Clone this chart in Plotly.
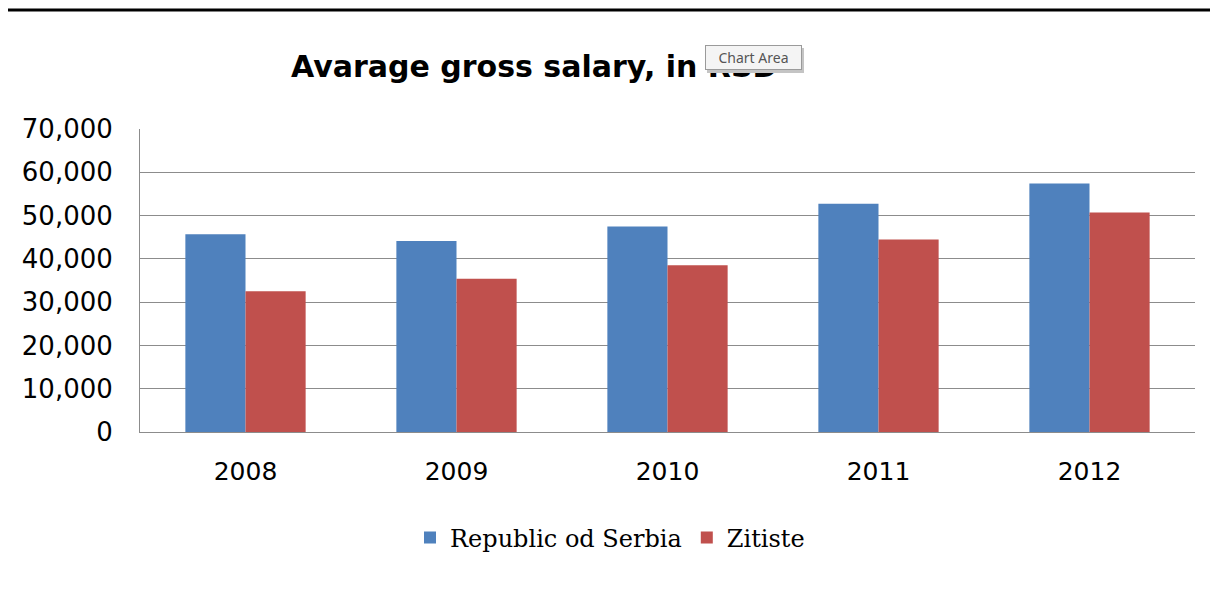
import plotly.graph_objects as go

years = ["2008", "2009", "2010", "2011", "2012"]
serbia = [45674, 44147, 47450, 52733, 57430]
zitiste = [32500, 35400, 38500, 44500, 50700]
y_ticks = [0, 10000, 20000, 30000, 40000, 50000, 60000, 70000]
y_tick_labels = ["0", "10,000", "20,000", "30,000", "40,000", "50,000", "60,000", "70,000"]

# page body has an 8px margin, so the figure is drawn offset by 8px
OFF = 8
W, H = 1218 - OFF, 591 - OFF
PL, PR, PT, PB = 140, 1195, 129, 432  # target plot-area pixel box in the window
L, T = PL - OFF, PT - OFF
R = (W + OFF) - PR
B = (H + OFF) - PB
pw, ph = PR - PL, PB - PT

def px(x):
    return (x - PL) / pw

def py(y):
    return (PB - y) / ph

fig = go.Figure()
fig.add_trace(go.Bar(x=years, y=serbia, name="Republic od Serbia", marker=dict(color="#4F81BD", line=dict(width=0))))
fig.add_trace(go.Bar(x=years, y=zitiste, name="Zitiste", marker=dict(color="#C0504D", line=dict(width=0))))

fig.update_layout(
    width=W, height=H,
    margin=dict(l=L, r=R, t=T, b=B),
    paper_bgcolor="white", plot_bgcolor="white",
    barmode="group", bargap=0.43, bargroupgap=0,
    font=dict(family="DejaVu Sans", color="black"),
    showlegend=True,
    legend=dict(orientation="h", x=px(410), xanchor="left", y=py(538), yanchor="middle",
                font=dict(family="DejaVu Serif", size=24, color="black"),
                itemwidth=30, tracegroupgap=0),
    xaxis=dict(showgrid=False, showline=True, linecolor="#8c8c8c", linewidth=1,
               ticks="", tickfont=dict(size=25, color="black"), ticklabelstandoff=17),
    yaxis=dict(range=[0, 70000], tickvals=y_ticks, ticktext=y_tick_labels,
               showgrid=True, gridcolor="#8c8c8c", gridwidth=1,
               showline=True, linecolor="#8c8c8c", linewidth=1, zeroline=False,
               ticks="", tickfont=dict(size=26, color="black"), ticklabelstandoff=21),
    annotations=[
        dict(text="<b>Avarage gross salary, in RSD</b>", xref="paper", yref="paper",
             x=px(289), y=py(66), xanchor="left", yanchor="middle", showarrow=False,
             font=dict(family="DejaVu Sans", size=30, color="black")),
        dict(text=" ", xref="paper", yref="paper",
             x=px(755), y=py(60), xanchor="center", yanchor="middle", showarrow=False,
             bgcolor="#c4c4c4", borderwidth=0, width=95, height=23),
        dict(text="Chart Area", xref="paper", yref="paper",
             x=px(753), y=py(58), xanchor="center", yanchor="middle", showarrow=False,
             font=dict(family="Noto Sans", size=14, color="#555555"),
             bgcolor="#f4f4f4", bordercolor="#9a9a9a", borderwidth=1, borderpad=1,
             width=93, height=21),
    ],
    shapes=[
        dict(type="line", xref="paper", yref="paper", x0=px(0), x1=px(1218), y0=py(10), y1=py(10),
             line=dict(color="black", width=3)),
    ],
)

fig.write_html("out.html")
